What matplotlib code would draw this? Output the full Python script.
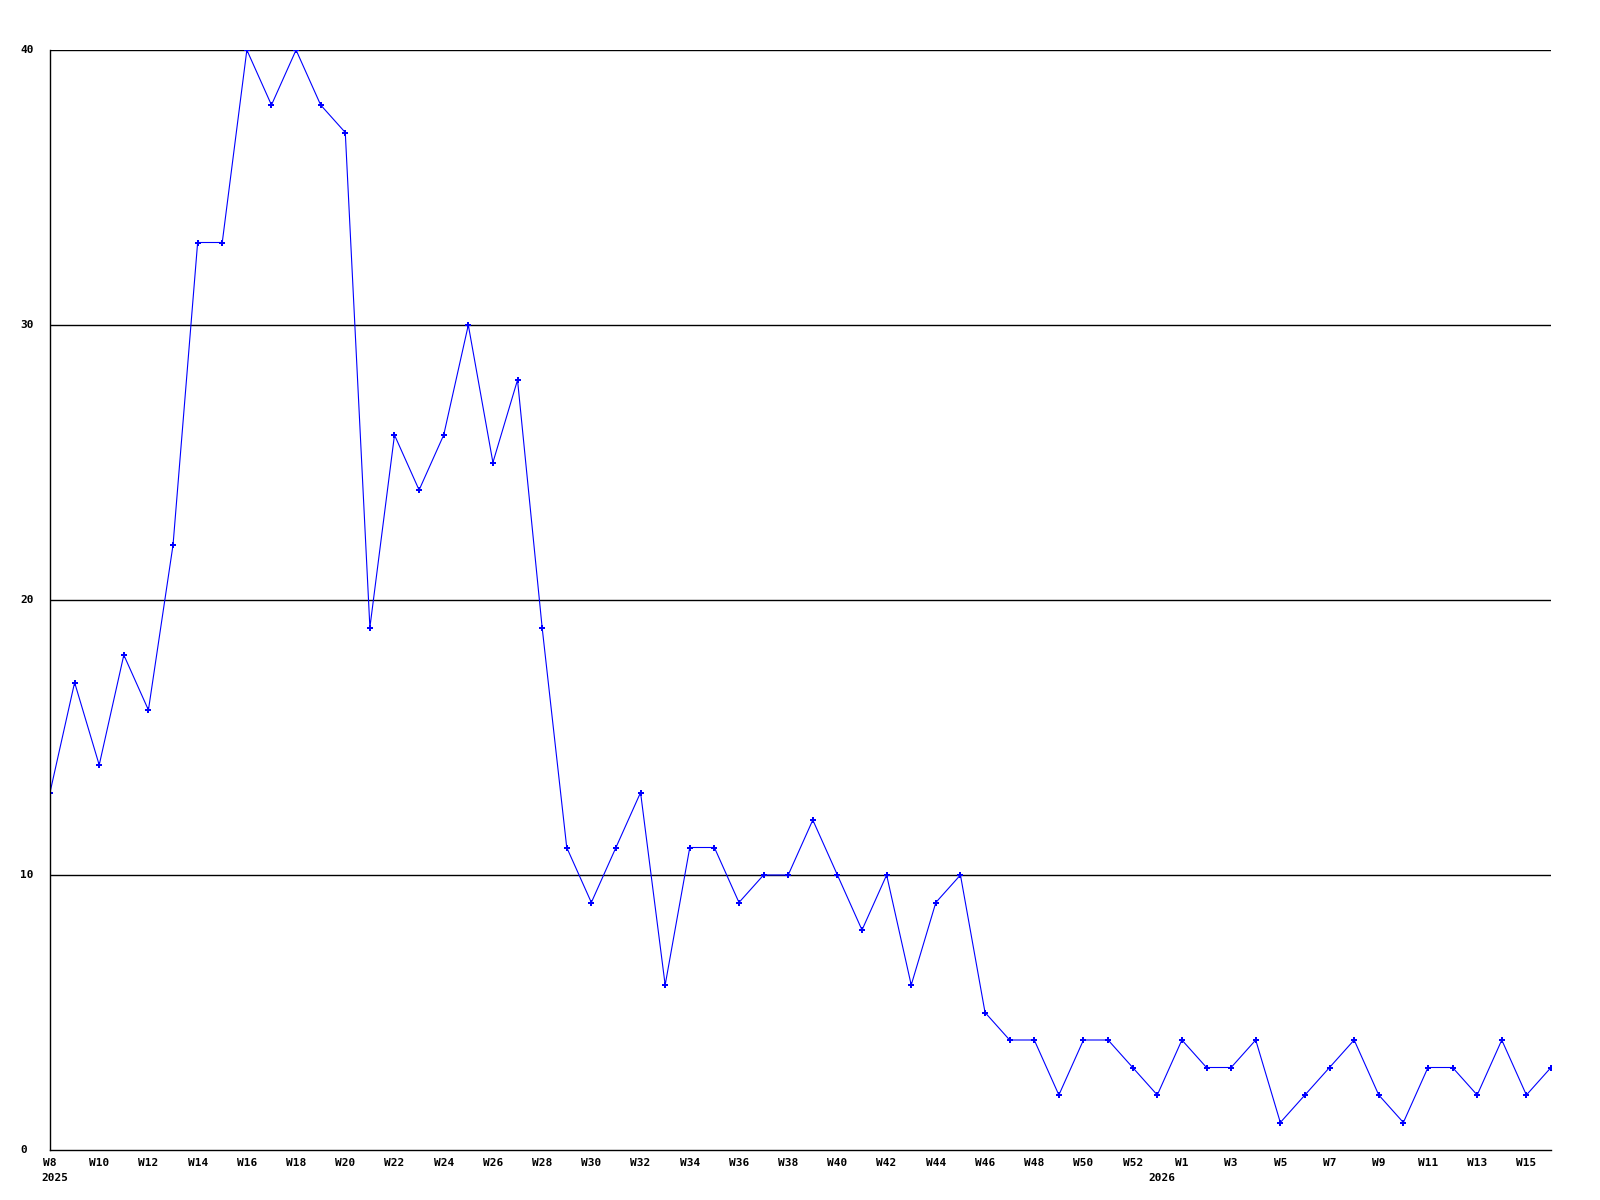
import matplotlib
matplotlib.use('Agg')
import matplotlib.pyplot as plt

# weekly counts, W8 2025 .. W16 2026 (one unlabeled week at the year change)
weeks = ['W8', 'W9', 'W10', 'W11', 'W12', 'W13', 'W14', 'W15', 'W16', 'W17',
         'W18', 'W19', 'W20', 'W21', 'W22', 'W23', 'W24', 'W25', 'W26', 'W27',
         'W28', 'W29', 'W30', 'W31', 'W32', 'W33', 'W34', 'W35', 'W36', 'W37',
         'W38', 'W39', 'W40', 'W41', 'W42', 'W43', 'W44', 'W45', 'W46', 'W47',
         'W48', 'W49', 'W50', 'W51', 'W52', '',
         'W1', 'W2', 'W3', 'W4', 'W5', 'W6', 'W7', 'W8', 'W9', 'W10',
         'W11', 'W12', 'W13', 'W14', 'W15', 'W16']
counts = [13, 17, 14, 18, 16, 22, 33, 33, 40, 38,
          40, 38, 37, 19, 26, 24, 26, 30, 25, 28,
          19, 11, 9, 11, 13, 6, 11, 11, 9, 10,
          10, 12, 10, 8, 10, 6, 9, 10, 5, 4,
          4, 2, 4, 4, 3, 2,
          4, 3, 3, 4, 1, 2, 3, 4, 2, 1,
          3, 3, 2, 4, 2, 3]
years = {0: '2025', 45: '2026'}
yticks = [0, 10, 20, 30, 40]

font = dict(family='DejaVu Sans Mono', weight='bold', size=8)

fig = plt.figure(figsize=(16, 12), dpi=100)
ax = fig.add_axes([50/1600, 50/1200, 1501/1600, 1100/1200])

x = list(range(len(counts)))
ax.plot(x, counts, color='#0000ff', lw=0.8, marker='P', ms=4, mew=0)

for v in yticks[1:]:
    ax.axhline(v, color='black', lw=1, zorder=0)

ax.set_xlim(0, len(counts) - 1)
ax.set_ylim(0, 40)
for s in ['top', 'right']:
    ax.spines[s].set_visible(False)
for s in ['left', 'bottom']:
    ax.spines[s].set_linewidth(1)
ax.set_xticks([])
ax.set_yticks([])

# y labels, left aligned near figure edge
for v in yticks:
    yy = ax.transData.transform((0, v))[1]
    fig.text(20/1600, yy/1200, str(v), ha='left', va='center', **font)

# x labels every other week
for i, w in enumerate(weeks):
    if w and i % 2 == 0:
        ax.text(i, -0.3, w, ha='center', va='top', **font)
for i, yr in years.items():
    ax.text(i + 0.2, -0.85, yr, ha='center', va='top', **font)

fig.savefig('out.png', dpi=100)
